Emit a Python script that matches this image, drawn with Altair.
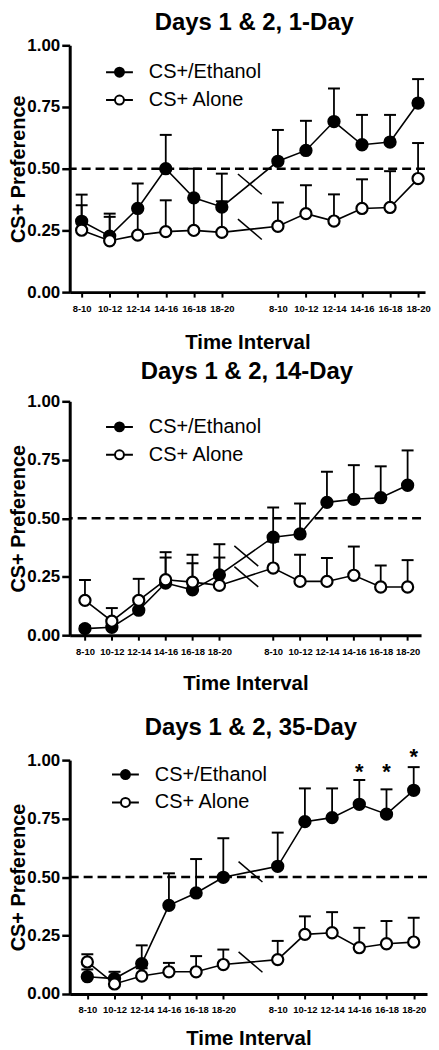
import altair as alt
import pandas as pd

# ---------------- data ----------------
intervals = ["8-10", "10-12", "12-14", "14-16", "16-18", "18-20"]
slot_labels = intervals + [""] + intervals          # 13 slots, slot 6 = break
positions = [0, 1, 2, 3, 4, 5, 7, 8, 9, 10, 11, 12]
series_names = ["CS+/Ethanol", "CS+ Alone"]
y_ticks = [0.0, 0.25, 0.5, 0.75, 1.0]
chance_level = [0.5]
titles = ["Days 1 & 2, 1-Day", "Days 1 & 2, 14-Day", "Days 1 & 2, 35-Day"]

# Panel 1 (1-Day)
p1_eth_mean = [0.287, 0.227, 0.339, 0.500, 0.382, 0.345, 0.530, 0.574, 0.691, 0.597, 0.608, 0.766]
p1_eth_upper = [0.395, 0.318, 0.440, 0.637, 0.500, 0.480, 0.657, 0.694, 0.825, 0.718, 0.718, 0.863]
p1_alone_mean = [0.251, 0.208, 0.231, 0.245, 0.250, 0.242, 0.267, 0.318, 0.288, 0.339, 0.343, 0.460]
p1_alone_upper = [0.352, 0.305, 0.340, 0.372, 0.380, 0.368, 0.363, 0.433, 0.396, 0.457, 0.490, 0.604]

# Panel 2 (14-Day)
p2_eth_mean = [0.028, 0.034, 0.107, 0.223, 0.194, 0.258, 0.419, 0.433, 0.568, 0.581, 0.588, 0.641]
p2_eth_upper = [0.040, 0.050, 0.160, 0.332, 0.308, 0.389, 0.546, 0.563, 0.699, 0.727, 0.722, 0.790]
p2_alone_mean = [0.149, 0.060, 0.149, 0.237, 0.227, 0.213, 0.287, 0.230, 0.230, 0.256, 0.206, 0.206]
p2_alone_upper = [0.236, 0.116, 0.241, 0.355, 0.344, 0.332, 0.400, 0.344, 0.330, 0.379, 0.298, 0.321]

# Panel 3 (35-Day)
p3_eth_mean = [0.074, 0.066, 0.130, 0.379, 0.432, 0.499, 0.546, 0.737, 0.754, 0.811, 0.769, 0.871]
p3_eth_upper = [0.105, 0.095, 0.208, 0.516, 0.577, 0.666, 0.690, 0.879, 0.879, 0.915, 0.875, 0.970]
p3_alone_mean = [0.137, 0.043, 0.077, 0.095, 0.095, 0.126, 0.147, 0.255, 0.262, 0.198, 0.215, 0.222]
p3_alone_upper = [0.170, 0.070, 0.110, 0.133, 0.162, 0.190, 0.227, 0.332, 0.350, 0.283, 0.312, 0.326]
p3_star_y = [None, None, None, None, None, None, None, None, None, 0.975, 0.975, 1.040]

FONT = "Liberation Sans"
LEGEND_SYMBOL = "M-3,0L-1,0M1,0L3,0M-1,0A1,1 0 1,1 1,0A1,1 0 1,1 -1,0Z"
BREAK_SHAPE = "M-1,-0.85L1,0.85"
label_expr = "[" + ",".join("'%s'" % s for s in slot_labels) + "][datum.value]"


def build_table(eth_mean, eth_upper, alone_mean, alone_upper):
    rows = []
    for name, m, u in [(series_names[0], eth_mean, eth_upper),
                       (series_names[1], alone_mean, alone_upper)]:
        for p, mv, uv in zip(positions, m, u):
            rows.append({"x": p, "series": name, "mean": mv, "upper": uv})
    return pd.DataFrame(rows)


def build_breaks(eth_mean, alone_mean):
    xb = (positions[5] + positions[6]) / 2
    return pd.DataFrame({
        "x": [xb, xb],
        "series": series_names,
        "mean": [(eth_mean[5] + eth_mean[6]) / 2, (alone_mean[5] + alone_mean[6]) / 2],
    })


def make_panel(title, eth_mean, eth_upper, alone_mean, alone_upper, width, height,
               xdom, legend_xy, title_offset, title_dx, xtitle_pad, stars=None):
    df = build_table(eth_mean, eth_upper, alone_mean, alone_upper)
    brk = build_breaks(eth_mean, alone_mean)
    xs = alt.Scale(domain=xdom, nice=False, zero=False)
    ys = alt.Scale(domain=[0, 1], nice=False, zero=False)
    x_axis = alt.Axis(values=positions, labelExpr=label_expr, labelAngle=0,
                      labelFontSize=9.5, labelFontWeight="bold", labelColor="black",
                      labelPadding=6, labelFont=FONT, labelOverlap=False,
                      tickSize=5, tickWidth=2, tickColor="black",
                      domainWidth=3, domainColor="black", grid=False,
                      title="Time Interval", titleFontSize=20.5, titleFontWeight="bold",
                      titleFont=FONT, titleColor="black", titlePadding=xtitle_pad)
    y_axis = alt.Axis(values=y_ticks, format=".2f", labelFontSize=17,
                      labelFontWeight="bold", labelColor="black", labelFont=FONT,
                      labelPadding=2, tickSize=8, tickWidth=2.5, tickColor="black",
                      domainWidth=3, domainColor="black", grid=False,
                      title="CS+ Preference", titleFontSize=20, titleFontWeight="bold",
                      titleFont=FONT, titleColor="black", titlePadding=-2)

    X = alt.X("x:Q", scale=xs, axis=x_axis)
    Y = lambda f: alt.Y(f, scale=ys, axis=y_axis)

    chance = alt.Chart(pd.DataFrame({"y": chance_level})).mark_rule(
        strokeDash=[9, 5], strokeWidth=2.5, color="black"
    ).encode(y=Y("y:Q"))

    err = alt.Chart(df).mark_rule(strokeWidth=1.8, color="black").encode(
        x=X, y=Y("mean:Q"), y2="upper:Q", detail="series:N")
    caps = alt.Chart(df).mark_tick(orient="horizontal", size=12, thickness=2,
                                   color="black", opacity=1).encode(
        x=X, y=Y("upper:Q"), detail="series:N")
    lines = alt.Chart(df).mark_line(strokeWidth=1.6, color="black").encode(
        x=X, y=Y("mean:Q"), detail="series:N", order="x:Q")
    breaks = alt.Chart(brk).mark_point(shape=BREAK_SHAPE, size=576, filled=False,
                                       strokeWidth=1.5, color="black", opacity=1).encode(
        x=X, y=Y("mean:Q"))
    pts = alt.Chart(df).mark_point(shape="circle", filled=True, size=125,
                                   stroke="black", strokeWidth=2.2, opacity=1).encode(
        x=X, y=Y("mean:Q"),
        fill=alt.Fill("series:N",
                      scale=alt.Scale(domain=series_names, range=["black", "white"]),
                      sort=series_names,
                      legend=alt.Legend(orient="none", legendX=legend_xy[0],
                                        legendY=legend_xy[1], title=None,
                                        labelFontSize=20, labelFont=FONT,
                                        labelColor="black", labelOffset=19.5,
                                        symbolType=LEGEND_SYMBOL, symbolSize=81,
                                        symbolStrokeColor="black",
                                        symbolStrokeWidth=2, symbolOpacity=1,
                                        rowPadding=8, padding=0)),
        order=alt.Order("series:N", sort="descending"))
    layers = [chance, err, caps, lines, breaks, pts]
    if stars is not None:
        sdf = pd.DataFrame({"x": positions, "y": stars}).dropna()
        layers.append(alt.Chart(sdf).mark_text(text="*", fontSize=22, fontWeight="bold",
                                               font=FONT, color="black", dy=6,
                                               baseline="middle").encode(
            x=X, y=Y("y:Q")))
    return alt.layer(*layers).properties(
        width=width, height=height,
        title=alt.TitleParams(title, fontSize=24, fontWeight="bold", font=FONT,
                              color="black", anchor="middle", frame="group",
                              offset=title_offset, dx=title_dx))


panel1 = make_panel(titles[0], p1_eth_mean, p1_eth_upper, p1_alone_mean, p1_alone_upper,
                    357, 248, [-0.426, 12.248], (40, 17), 1.3, 7, 20)
panel2 = make_panel(titles[1], p2_eth_mean, p2_eth_upper, p2_alone_mean, p2_alone_upper,
                    353, 235, [-0.567, 12.5], (40, 15.7), 8.8, 1.5, 17.7)
panel3 = make_panel(titles[2], p3_eth_mean, p3_eth_upper, p3_alone_mean, p3_alone_upper,
                    359, 235, [-0.648, 12.49], (46, 4.5), 5.4, 2.5, 14.5, stars=p3_star_y)

lower = alt.vconcat(panel2, panel3, spacing=22.5).resolve_scale(
    fill="independent").resolve_legend(fill="independent")
chart = alt.vconcat(panel1, lower, spacing=6.7).resolve_scale(
    fill="independent").resolve_legend(fill="independent").properties(
    padding={"left": 0, "top": 0, "right": 0, "bottom": 0},
    background="white"
).configure(font=FONT).configure_view(stroke=None)

chart.save("out.html", embed_options={"renderer": "svg", "actions": False})
